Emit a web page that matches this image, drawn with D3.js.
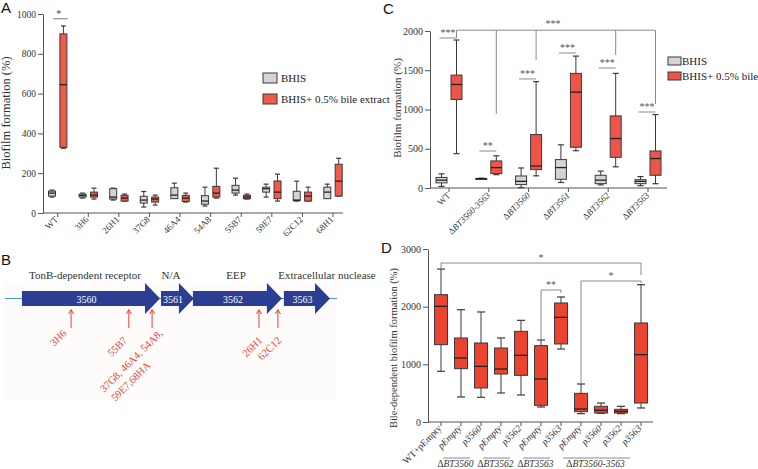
<!DOCTYPE html>
<html><head><meta charset="utf-8">
<script src="https://cdn.jsdelivr.net/npm/d3@7"></script>
<style>body{margin:0;background:#fff}svg{display:block}</style>
</head><body><svg id="c" width="758" height="469"></svg>
<script>
// ---------- DATA ----------
// Panel A: [min, q1, median, q3, max]
const aCategories = ["WT","3H6","26H1","37G8","46A4","54A8","55B7","59E7","62C12","68H1"];
const aBhis = [[80,85,100,110,115],[75,80,88,95,100],[65,70,80,122,125],[30,50,65,84,108],[75,72,90,127,150],
  [35,44,60,87,130],[90,100,115,139,175],[80,105,122,130,145],[60,62,65,109,160],[75,72,105,130,145]];
const aBile = [[325,330,645,900,940],[70,80,90,105,125],[60,60,75,89,95],[40,55,70,80,90],[55,58,75,89,100],
  [75,80,100,134,225],[70,72,80,89,95],[60,72,105,161,195],[60,60,85,105,130],[85,85,160,245,275]];
const aTicks = [0,200,400,600,800,1000];

// Panel B: gene map (relative map units 0-100)
const bGenes = [
  {id:"3560", name:"TonB-dependent receptor", start:5.1, end:46.7, namePos:24.1},
  {id:"3561", name:"N/A", start:47.0, end:56.9, namePos:50.0},
  {id:"3562", name:"EEP", start:56.6, end:83.4, namePos:69.6},
  {id:"3563", name:"Extracellular nuclease", start:84.0, end:97.9, namePos:97.0}];
const bInsertPos = [19.9, 37.3, 44.3, 76.5, 82.2];
const bInsertLabels = [["3H6"],["55B7"],["37G8, 46A4, 54A8,","59E7,68HA"],["26H1"],["62C12"]];

// Panel C
const cCategories = ["WT","ΔBT3560-3563","ΔBT3560","ΔBT3561","ΔBT3562","ΔBT3563"];
const cBhis = [[20,65,100,135,180],[110,115,118,122,125],[5,43,85,153,255],[70,111,260,362,550],[40,55,100,162,215],[30,55,85,106,145]];
const cBile = [[438,1128,1319,1438,1885],[170,183,260,345,410],[155,234,280,681,1355],[475,519,1221,1460,1680],[270,391,630,919,1460],[55,162,375,472,935]];
const cTicks = [0,500,1000,1500,2000];
const cPairSig = [{i:0,level:1911,label:"***"},{i:1,level:471,label:"**"},{i:2,level:1389,label:"***"},
  {i:3,level:1720,label:"***"},{i:4,level:1529,label:"***"},{i:5,level:968,label:"***"}];
const cBracketLevel = 2010;
const cBracketDrops = [{i:0,to:1911},{i:1,to:943},{i:2,to:1631},{i:4,to:1694},{i:5,to:1070}];

// Panel D
const dCategories = ["WT+pEmpty","pEmpty","p3560","pEmpty","p3562","pEmpty","p3563","pEmpty","p3560","p3562","p3563"];
const dValues = [[879,1341,2006,2208,2653],[434,925,1110,1457,1948],[428,590,965,1370,1908],[503,832,919,1283,1457],
  [468,809,1156,1572,1763],[260,289,746,1324,1422],[1266,1353,1815,2064,2168],[145,179,225,497,659],
  [150,156,202,272,329],[145,156,185,220,272],[243,329,1168,1717,2381]];
const dTicks = [0,1000,2000,3000];
const dGroups = [{label:"BT3560",from:1,to:2},{label:"BT3562",from:3,to:4},{label:"BT3563",from:5,to:6},{label:"BT3560-3563",from:7,to:10}];
const dSig = [{a:0,b:10,level:2757,dropA:2653,dropB:2549,label:"*"},
  {a:7,b:10,level:2445,dropA:676,dropB:2410,label:"*"},
  {a:5,b:6,level:2289,dropA:1422,dropB:2237,label:"**"}];

// ---------- STYLE ----------
const serif = "'Liberation Serif','Times New Roman',serif";
const sans = "'Liberation Sans',Arial,sans-serif";
const GREY = "#d4d4d4", RED_A = "#ef5b4b", RED_C = "#f05449", RED_D = "#ea4330";
const STROKE = "#3a3a3a", AX = "#555";
const svg = d3.select("#c");

function yAxis(g, x0, y, ticks, fs) {
  const ax = g.append("g").attr("transform", `translate(${x0},0)`)
    .call(d3.axisLeft(y).tickValues(ticks).tickSize(5).tickSizeOuter(0).tickPadding(2).tickFormat(d3.format("d")));
  ax.select(".domain").attr("stroke", AX);
  ax.selectAll(".tick line").attr("stroke", AX);
  ax.selectAll("text").attr("font-family", serif).attr("font-size", fs).attr("fill", "#333");
}
function xAxisLine(g, x0, x1, y0, xs) {
  g.append("line").attr("x1", x0).attr("x2", x1).attr("y1", y0).attr("y2", y0).attr("stroke", AX);
  xs.forEach(xv => g.append("line").attr("x1", xv).attr("x2", xv).attr("y1", y0).attr("y2", y0 + 4).attr("stroke", AX));
}
function boxes(g, cx, y, stats, w, cap, fill) {
  stats.forEach((s, i) => {
    const c = cx(i);
    g.append("line").attr("x1", c).attr("x2", c).attr("y1", y(s[0])).attr("y2", y(s[4])).attr("stroke", STROKE).attr("stroke-width", 1);
    [s[0], s[4]].forEach(v => g.append("line").attr("x1", c - cap / 2).attr("x2", c + cap / 2).attr("y1", y(v)).attr("y2", y(v)).attr("stroke", STROKE).attr("stroke-width", 1.2));
    const top = y(Math.max(s[1], s[3])), bot = y(Math.min(s[1], s[3]));
    g.append("rect").attr("x", c - w / 2).attr("y", top).attr("width", w).attr("height", Math.max(1, bot - top))
      .attr("fill", fill).attr("stroke", STROKE).attr("stroke-width", 1);
    g.append("line").attr("x1", c - w / 2).attr("x2", c + w / 2).attr("y1", y(s[2])).attr("y2", y(s[2])).attr("stroke", "#222").attr("stroke-width", 1.3);
  });
}
function rotLabel(g, x, y, parts, fs, anchor = "end") {
  const t = g.append("text").attr("transform", `translate(${x},${y}) rotate(-45)`).attr("text-anchor", anchor)
    .attr("font-family", serif).attr("font-size", fs).attr("fill", "#333");
  parts.forEach(p => t.append("tspan").attr("font-style", p.it ? "italic" : "normal").text(p.t));
  return t;
}
function deltaParts(s) {
  if (s.startsWith("Δ")) return [{t:"Δ"},{t:s.slice(1), it:true}];
  return [{t:s}];
}
function letter(x, y, s) {
  svg.append("text").attr("x", x).attr("y", y).attr("font-family", sans).attr("font-size", 15).attr("fill", "#111").text(s);
}

// ---------- PANEL A ----------
{
  const g = svg.append("g");
  letter(1, 13, "A");
  const y = d3.scaleLinear().domain([0, 1000]).range([213, 14]);
  const x = d3.scalePoint().domain(d3.range(aCategories.length)).range([57.7, 333]);
  yAxis(g, 43, y, aTicks, 9.5);
  xAxisLine(g, 43, 343, 213, aCategories.map((d, i) => x(i)));
  boxes(g, i => x(i) - 5.7, y, aBhis, 7, 5, GREY);
  boxes(g, i => x(i) + 5.7, y, aBile, 7, 5, RED_A);
  aCategories.forEach((c, i) => rotLabel(g, x(i) + 1, 220, [{t:c}], 9));
  g.append("text").attr("transform", `translate(10,113) rotate(-90)`).attr("text-anchor", "middle")
    .attr("font-family", serif).attr("font-size", 12.5).attr("fill", "#333").text("Biofilm formation (%)");
  // significance
  g.append("line").attr("x1", x(0) - 4.5).attr("x2", x(0) + 10).attr("y1", y(976)).attr("y2", y(976)).attr("stroke", "#777");
  g.append("text").attr("x", x(0) + 1).attr("y", y(976) - 2).attr("text-anchor", "middle").attr("font-family", serif).attr("font-size", 10).attr("fill", "#444").text("*");
  // legend
  [["BHIS", GREY, 73], ["BHIS+ 0.5% bile extract", RED_A, 94]].forEach(([t, f, yy]) => {
    g.append("rect").attr("x", 263).attr("y", yy).attr("width", 14).attr("height", 10).attr("fill", f).attr("stroke", STROKE);
    g.append("text").attr("x", 281).attr("y", yy + 9).attr("font-family", serif).attr("font-size", 11).attr("fill", "#222").text(t);
  });
}

// ---------- PANEL B ----------
{
  const g = svg.append("g");
  letter(1, 265, "B");
  const x = d3.scaleLinear().domain([0, 100]).range([5, 337]);
  g.append("rect").attr("x", 5).attr("y", 282).attr("width", 332).attr("height", 119).attr("fill", "#fdfcfb");
  const cy = 298.5;
  g.append("line").attr("x1", x(0)).attr("x2", x(100)).attr("y1", cy).attr("y2", cy).attr("stroke", "#4f95dd").attr("stroke-width", 1);
  const bh = 7.5, hh = 15.5, hl = 15;
  bGenes.forEach(gn => {
    const x0 = x(gn.start), x1 = x(gn.end), xh = x1 - hl;
    const pts = [[x0, cy - bh], [xh, cy - bh], [xh, cy - hh], [x1, cy], [xh, cy + hh], [xh, cy + bh], [x0, cy + bh]];
    g.append("path").attr("d", d3.line()(pts) + "Z").attr("fill", "#2b3e93");
    g.append("text").attr("x", (x0 + xh) / 2 + 3).attr("y", cy + 4).attr("text-anchor", "middle")
      .attr("font-family", serif).attr("font-size", 10).attr("fill", "#fff").text(gn.id);
    g.append("text").attr("x", x(gn.namePos)).attr("y", 279).attr("text-anchor", "middle")
      .attr("font-family", serif).attr("font-size", 11).attr("fill", "#333").text(gn.name);
  });
  const RED = "#ee3a34";
  bInsertPos.forEach((p, i) => {
    const xx = x(p);
    g.append("line").attr("x1", xx).attr("x2", xx).attr("y1", 310).attr("y2", 328).attr("stroke", RED).attr("stroke-width", 1);
    g.append("path").attr("d", `M${xx - 2.5},${314} L${xx},${309.5} L${xx + 2.5},${314}`).attr("fill", "none").attr("stroke", RED).attr("stroke-width", 1);
  });
  const lab = (xx, yy, s) => g.append("text").attr("transform", `translate(${xx},${yy}) rotate(-45)`).attr("text-anchor", "end")
    .attr("font-family", serif).attr("font-size", 10.5).attr("fill", RED).text(s);
  const ends = [[x(bInsertPos[0]) - 4, 334], [x(bInsertPos[1]) - 1, 341], [x(bInsertPos[2]) + 11, 334], [x(bInsertPos[3]) + 4, 341], [x(bInsertPos[4]) + 4, 341]];
  bInsertLabels.forEach((ls, i) => {
    lab(ends[i][0], ends[i][1], ls[0]);
    if (ls[1]) lab(ends[i][0] - 12, ends[i][1] + 32, ls[1]);
  });
}

// ---------- PANEL C ----------
{
  const g = svg.append("g");
  letter(383, 14, "C");
  const y = d3.scaleLinear().domain([0, 2000]).range([188, 31]);
  const x = d3.scalePoint().domain(d3.range(cCategories.length)).range([449, 648]);
  yAxis(g, 430, y, cTicks, 10);
  xAxisLine(g, 430, 667, 188, cCategories.map((d, i) => x(i)));
  const gx = i => x(i) - 7.5, rx = i => x(i) + 7.5;
  boxes(g, gx, y, cBhis, 11, 6, GREY);
  boxes(g, rx, y, cBile, 11, 6, RED_C);
  cCategories.forEach((c, i) => rotLabel(g, x(i) + 2, 196, deltaParts(c), 9));
  g.append("text").attr("transform", `translate(401,108) rotate(-90)`).attr("text-anchor", "middle")
    .attr("font-family", serif).attr("font-size", 11).attr("fill", "#333").text("Biofilm formation (%)");
  const SIG = "#8a8a8a";
  cPairSig.forEach(s => {
    const yy = y(s.level);
    g.append("line").attr("x1", gx(s.i) - 2).attr("x2", rx(s.i)).attr("y1", yy).attr("y2", yy).attr("stroke", SIG);
    g.append("text").attr("x", (gx(s.i) + rx(s.i)) / 2 - 1).attr("y", yy - 2).attr("text-anchor", "middle")
      .attr("font-family", serif).attr("font-size", 10).attr("fill", "#555").text(s.label);
  });
  const by = y(cBracketLevel);
  g.append("line").attr("x1", rx(cBracketDrops[0].i)).attr("x2", rx(cBracketDrops[cBracketDrops.length - 1].i)).attr("y1", by).attr("y2", by).attr("stroke", SIG);
  cBracketDrops.forEach(d => g.append("line").attr("x1", rx(d.i)).attr("x2", rx(d.i)).attr("y1", by).attr("y2", y(d.to)).attr("stroke", SIG));
  g.append("text").attr("x", 553).attr("y", by - 3).attr("text-anchor", "middle").attr("font-family", serif).attr("font-size", 10).attr("fill", "#555").text("***");
  [["BHIS", GREY, 57], ["BHIS+ 0.5% bile", RED_C, 72]].forEach(([t, f, yy]) => {
    g.append("rect").attr("x", 668).attr("y", yy).attr("width", 13).attr("height", 8).attr("fill", f).attr("stroke", STROKE);
    g.append("text").attr("x", 682).attr("y", yy + 8).attr("font-family", serif).attr("font-size", 11).attr("fill", "#222").text(t);
  });
}

// ---------- PANEL D ----------
{
  const g = svg.append("g");
  letter(381, 253, "D");
  const y = d3.scaleLinear().domain([0, 3000]).range([422, 249]);
  const x = d3.scalePoint().domain(d3.range(dCategories.length)).range([441, 641]);
  yAxis(g, 428, y, dTicks, 10);
  xAxisLine(g, 428, 653, 422, dCategories.map((d, i) => x(i)));
  boxes(g, i => x(i), y, dValues, 13, 8, RED_D);
  dCategories.forEach((c, i) => rotLabel(g, x(i) + 1, 429, [{t:c, it: i > 0}], 9.5));
  g.append("text").attr("transform", `translate(397,348) rotate(-90)`).attr("text-anchor", "middle")
    .attr("font-family", serif).attr("font-size", 10.5).attr("fill", "#333").text("Bile-dependent biofilm formation (%)");
  const SIG = "#8a8a8a";
  dSig.forEach(s => {
    const yy = y(s.level), xa = x(s.a), xb = x(s.b);
    g.append("path").attr("d", `M${xa},${y(s.dropA)} L${xa},${yy} L${xb},${yy} L${xb},${y(s.dropB)}`).attr("fill", "none").attr("stroke", SIG);
    g.append("text").attr("x", (xa + xb) / 2).attr("y", yy - 2).attr("text-anchor", "middle")
      .attr("font-family", serif).attr("font-size", 10).attr("fill", "#555").text(s.label);
  });
  dGroups.forEach(gr => {
    const xa = x(gr.from) - 18, xb = x(gr.to) - 11;
    g.append("line").attr("x1", xa).attr("x2", xb).attr("y1", 458).attr("y2", 458).attr("stroke", "#888");
    const t = g.append("text").attr("x", (xa + xb) / 2 - 1).attr("y", 467).attr("text-anchor", "middle")
      .attr("font-family", serif).attr("font-size", 9.5).attr("fill", "#333");
    t.append("tspan").text("Δ");
    t.append("tspan").attr("font-style", "italic").text(gr.label);
  });
}
</script></body></html>
